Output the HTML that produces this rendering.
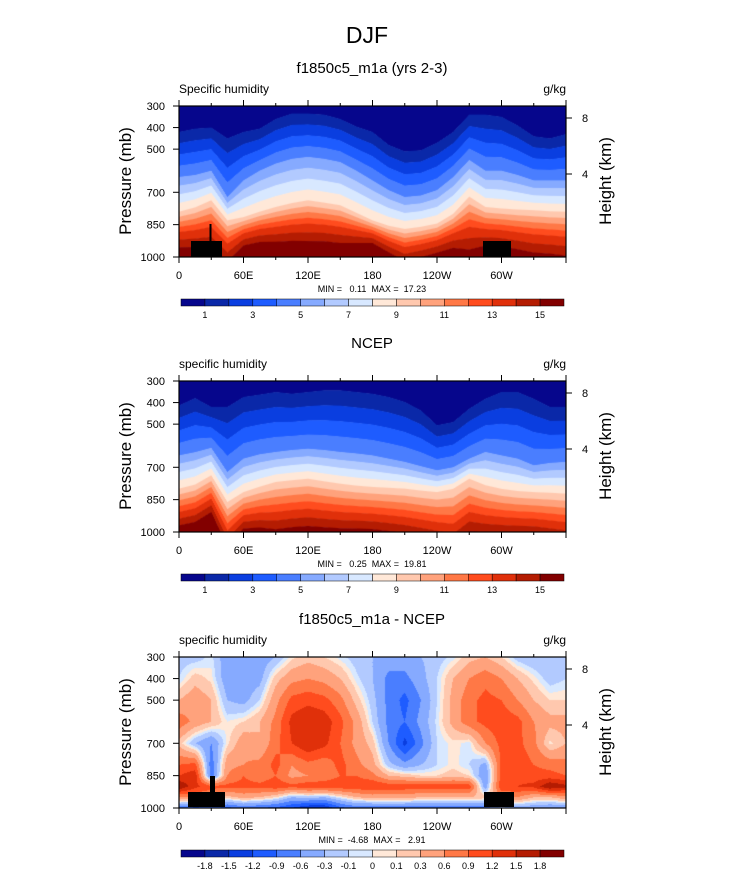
<!DOCTYPE html>
<html><head><meta charset="utf-8">
<style>
body{margin:0;background:#fff;width:733px;height:888px;overflow:hidden;position:relative;font-family:"Liberation Sans",sans-serif}
canvas{position:absolute}
svg{position:absolute;left:0;top:0}
</style></head>
<body>
<canvas id="c1" width="387" height="151" style="left:179px;top:106px"></canvas>
<canvas id="c2" width="387" height="151" style="left:179px;top:381px"></canvas>
<canvas id="c3" width="387" height="151" style="left:179px;top:657px"></canvas>
<svg id="ov" width="733" height="888"></svg>
<script>
// ---- data ----
const lons = [0,15,30,45,60,75,90,105,120,135,150,165,180,195,210,225,240,255,270,285,300,315,330,345,360];
const isoLevels = [1,5,9,13];
// panel 1 (model): pressure (mb) of isolines q=1,5,9,13 per longitude
const m1_q1  = [420,405,400,450,420,405,360,335,335,340,360,395,420,480,510,505,470,420,340,340,350,390,440,450,430];
const m1_q5  = [629,620,600,722,645,600,567,545,536,545,560,600,645,690,722,715,690,630,550,600,600,620,645,645,645];
const m1_q9  = [790,770,737,830,815,790,768,750,737,748,760,795,830,855,870,860,845,800,720,768,775,780,783,788,790];
const m1_q13 = [884,875,860,938,890,870,860,850,845,850,860,875,890,925,954,940,922,890,860,870,875,885,895,900,906];
// panel 2 (NCEP)
const n_q1  = [413,379,420,420,374,363,351,359,351,343,343,351,359,374,397,436,505,490,428,382,351,351,382,420,420];
const n_q5  = [645,630,610,722,660,640,629,620,614,620,629,636,645,660,675,695,714,700,660,629,645,660,691,680,675];
const n_q9  = [799,780,737,861,815,790,768,760,753,765,776,785,791,795,799,808,815,800,753,783,800,810,815,818,822];
const n_q13 = [907,890,845,992,922,910,907,898,892,900,907,911,915,922,930,942,954,962,907,922,930,935,938,946,954];
// panel 3 (difference) grid values, rows by pressure
const diffP = [300,400,500,600,700,800,850,900,950,1000];
const diffRows = [
[-0.2,-0.2,-0.05,-0.5,-0.5,-0.5,-0.3,0.05,0.2,0.1,-0.05,-0.2,-0.3,-0.4,-0.4,-0.3,-0.2,-0.05,0.2,0.3,0.1,-0.2,-0.3,-0.3,-0.2],
[-0.1,0.2,0.05,-0.5,-0.5,-0.4,0.2,0.5,0.6,0.5,0.3,-0.05,-0.3,-0.7,-0.7,-0.4,-0.1,0.3,0.6,0.8,0.6,0.3,0.05,-0.2,-0.1],
[0.3,0.5,0.3,-0.3,-0.4,-0.1,0.5,1.0,1.1,1.0,0.7,0.2,-0.2,-0.7,-1.0,-0.6,-0.1,0.4,0.8,1.0,0.9,0.6,0.3,0.1,0.1],
[0.8,0.5,0.3,0.0,0.1,0.3,0.7,1.3,1.5,1.4,1.0,0.5,-0.1,-0.7,-0.9,-0.5,-0.05,0.4,0.8,1.0,1.1,1.0,0.6,0.4,0.4],
[0.2,-0.3,-0.6,0.05,0.5,0.3,0.8,1.2,1.5,1.3,0.9,0.5,0.2,-0.6,-1.3,-0.7,-0.1,0.05,-0.05,0.6,1.0,1.0,0.7,0.05,0.3],
[0.9,1.0,-0.8,0.5,0.6,0.7,1.0,0.6,0.8,0.7,1.0,0.7,0.4,-0.2,-0.5,-0.3,-0.1,0.05,-0.1,-0.4,1.0,1.1,0.9,0.8,0.7],
[1.2,1.4,-0.8,0.6,0.9,0.7,0.9,0.5,0.6,0.7,0.9,0.9,0.7,0.3,0.2,0.1,0.1,0.2,0.1,-0.6,1.0,1.1,1.0,1.0,0.9],
[1.8,1.3,1.0,1.0,1.0,1.0,1.1,1.0,1.1,1.1,1.1,1.1,1.2,1.1,1.1,1.1,1.1,1.1,1.1,-0.5,1.2,1.2,1.3,1.8,1.6],
[0.6,0.6,0.6,0.2,0.4,0.3,0.1,-0.3,-0.2,-0.3,0.0,0.3,0.4,0.4,0.4,0.3,0.3,0.3,0.3,0.2,0.5,0.6,0.3,0.3,0.5],
[-0.8,-1.0,-0.9,-1.0,-0.8,-0.9,-1.0,-1.2,-1.5,-1.5,-1.0,-0.8,-0.8,-0.8,-0.8,-0.8,-0.8,-0.8,-0.8,-0.8,-0.3,-0.5,-0.5,-0.6,-0.6]];
const qLevels = [1,2,3,4,5,6,7,8,9,10,11,12,13,14,15];
const qLabels = ["1","3","5","7","9","11","13","15"];
const dLevels = [-1.8,-1.5,-1.2,-0.9,-0.6,-0.3,-0.1,0,0.1,0.3,0.6,0.9,1.2,1.5,1.8];
const pTicks = [300,400,500,700,850,1000];
const lonTicks = ["0","60E","120E","180","120W","60W"];
const hTicks = [8,4];
const colors = ["#06068c","#0a28a8","#0a3ee0","#1e5cff","#4a7eff","#86aaff","#b2caff","#d8e8ff","#ffe8d8","#ffc8ae","#ffa27c","#ff7846","#ff4c1e","#e0300a","#b41c02","#820000"];

// ---- geometry ----
const L=179, W=387, H=151;
const xOf = lon => lon/360*W;
const yOfP = p => (p-300)/700*H;
function interpLon(arr, lon){
  let i=Math.min(Math.floor(lon/15),lons.length-2); const t=(lon-lons[i])/15;
  return arr[i]*(1-t)+arr[i+1]*t;
}
function drawBanded(id, iso, lowSpread){
  const ctx=document.getElementById(id).getContext('2d');
  for(let x=0;x<W;x++){
    const lon=(x+0.5)/W*360;
    const P=iso.map(a=>interpLon(a,lon));
    const bound=qLevels.map(k=>{
      if(k<=isoLevels[0]) return P[0]-(isoLevels[0]-k)*30;
      for(let j=0;j<isoLevels.length-1;j++){
        if(k<=isoLevels[j+1]){const t=(k-isoLevels[j])/(isoLevels[j+1]-isoLevels[j]);return P[j]*(1-t)+P[j+1]*t;}
      }
      return P[3]+(k-13)*(P[3]-P[2])/4*lowSpread;
    });
    let prev=300;
    for(let b=0;b<=bound.length;b++){
      const next=b<bound.length?Math.min(Math.max(bound[b],300),1000):1000;
      if(next>prev){ctx.fillStyle=colors[b];ctx.fillRect(x,yOfP(prev),1,yOfP(next)-yOfP(prev)+0.5);}
      prev=Math.max(prev,next);
    }
  }
}
drawBanded('c1',[m1_q1,m1_q5,m1_q9,m1_q13],1.5);
drawBanded('c2',[n_q1,n_q5,n_q9,n_q13],1.15);
(function(){
  const ctx=document.getElementById('c3').getContext('2d');
  for(let x=0;x<W;x++){ const lon=(x+0.5)/W*360;
    const col=diffRows.map(r=>interpLon(r,lon));
    for(let y=0;y<H;y++){ const p=300+(y+0.5)/H*700;
      let j=0; while(j<diffP.length-2&&p>diffP[j+1]) j++;
      const t=(p-diffP[j])/(diffP[j+1]-diffP[j]);
      const v=col[j]*(1-t)+col[j+1]*t;
      let idx=0; while(idx<dLevels.length&&v>=dLevels[idx]) idx++;
      ctx.fillStyle=colors[idx]; ctx.fillRect(x,y,1,1);
    }}
})();

// ---- overlay ----
const svg=document.getElementById('ov'); const NS='http://www.w3.org/2000/svg';
function el(tag,attrs,parent){const e=document.createElementNS(NS,tag);for(const k in attrs)e.setAttribute(k,attrs[k]);(parent||svg).appendChild(e);return e;}
function txt(s,attrs,name){const e=el('text',Object.assign({'font-family':'Liberation Sans, sans-serif',fill:'#000'},attrs));e.textContent=s;


return e;}
txt('DJF',{x:367,y:43,'font-size':23,'text-anchor':'middle'},'main-title');
const panels=[
 {top:106,title:'f1850c5_m1a (yrs 2-3)',left:'Specific humidity',mm:'MIN =   0.11  MAX =  17.23',labels:qLabels,diff:false,masks:true},
 {top:381,title:'NCEP',left:'specific humidity',mm:'MIN =   0.25  MAX =  19.81',labels:qLabels,diff:false,masks:false},
 {top:657,title:'f1850c5_m1a - NCEP',left:'specific humidity',mm:'MIN =  -4.68  MAX =   2.91',labels:dLevels.map(String),diff:true,masks:true}];
panels.forEach((pp,pi)=>{
  const T=pp.top, g=el('g',{});
  
  
  txt(pp.title,{x:372,y:T-33,'font-size':15,'text-anchor':'middle'},'panel-title');
  txt(pp.left,{x:179,y:T-13,'font-size':12},'variable-label');
  txt('g/kg',{x:566,y:T-13,'font-size':12,'text-anchor':'end'},'units-label');
  if(pp.masks){
    const m=pi===0?[[191,241,31,16],[209.5,224,2,17],[483,241,28,16]]:[[188,792,37,15],[210,776,5,16],[484,792,30,15]];
    m.forEach(r=>{const e=el('rect',{x:r[0],y:r[1],width:r[2],height:r[3],fill:'#000'},g);
      
      });
  }
  const fr=el('rect',{x:L,y:T,width:W,height:H,fill:'none',stroke:'#000','stroke-width':1.2},g);
  
  
  for(let lon=0;lon<=360;lon+=30){const x=L+xOf(lon),len=lon%60===0?6:3;
    el('line',{x1:x,x2:x,y1:T,y2:T-len,stroke:'#000'},g);el('line',{x1:x,x2:x,y1:T+H,y2:T+H+len,stroke:'#000'},g);}
  lonTicks.forEach((s,i)=>txt(s,{x:L+xOf(i*60),y:T+H+22,'font-size':11,'text-anchor':'middle'},'x-tick-label'));
  pTicks.forEach(p=>{const y=T+yOfP(p);el('line',{x1:L,x2:L-6,y1:y,y2:y,stroke:'#000'},g);
    txt(String(p),{x:L-14,y:y+4,'font-size':11,'text-anchor':'end'},'y-tick-label');});
  hTicks.forEach((h,i)=>{const y=T+(i===0?12:68);el('line',{x1:L+W,x2:L+W+6,y1:y,y2:y,stroke:'#000'},g);
    txt(String(h),{x:L+W+16,y:y+4,'font-size':11},'right-tick-label');});
  txt('Pressure (mb)',{x:0,y:0,'font-size':17,'text-anchor':'middle',transform:`translate(131,${T+75}) rotate(-90)`},'y-axis-title');
  txt('Height (km)',{x:0,y:0,'font-size':17,'text-anchor':'middle',transform:`translate(611,${T+75}) rotate(-90)`},'right-axis-title');
  txt(pp.mm,{x:372,y:T+186,'font-size':9,'text-anchor':'middle',style:'white-space:pre'},'min-max-label');
  const cb=el('g',{},g);
  
  
  const bw=383/16, cy=T+193;
  colors.forEach((c,i)=>{const r=el('rect',{x:181+i*bw,y:cy,width:bw,height:7,fill:c,stroke:'#000','stroke-width':0.5},cb);
    
    });
  if(pp.diff){pp.labels.forEach((s,i)=>txt(s,{x:181+(i+1)*bw,y:cy+19,'font-size':9,'text-anchor':'middle'},'colorbar-label'));}
  else{pp.labels.forEach((s,i)=>txt(s,{x:181+(2*i+1)*bw,y:cy+19,'font-size':9,'text-anchor':'middle'},'colorbar-label'));}
});
</script>
</body></html>
